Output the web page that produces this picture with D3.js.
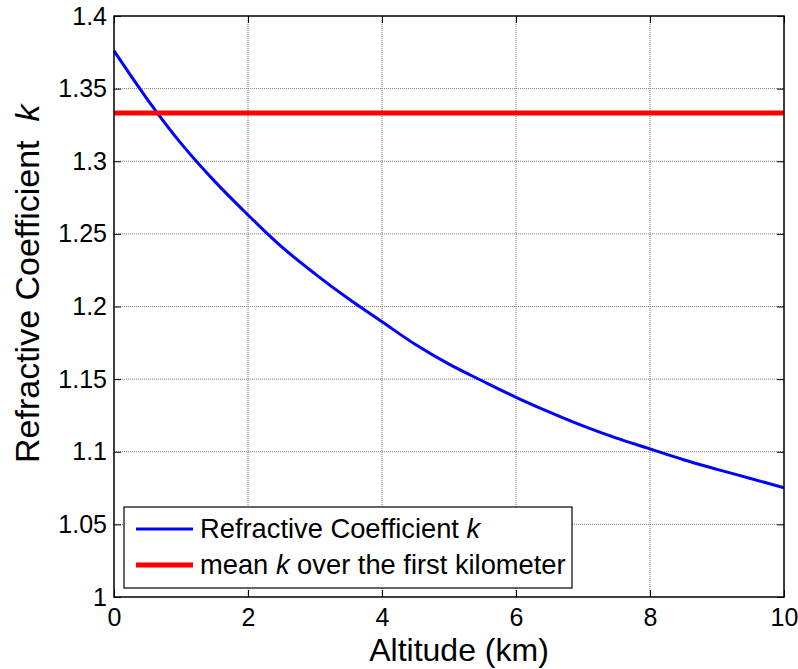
<!DOCTYPE html>
<html>
<head>
<meta charset="utf-8">
<script src="https://cdn.jsdelivr.net/npm/d3@7"></script>
<style>
  html, body { margin: 0; padding: 0; background: #fff; }
  svg { display: block; font-family: Arial, "Liberation Sans", sans-serif; }
</style>
</head>
<body>
<svg id="chart" width="798" height="669"></svg>
<script>
// Altitude samples (km) and the refractive coefficient k at each one
const altitudeKm = [0, 0.5, 1, 1.5, 2, 2.5, 3, 3.5, 4, 4.5, 5, 5.5, 6, 6.5, 7, 7.5, 8, 8.5, 9, 9.5, 10];
const kValues = [1.376, 1.3425, 1.3123, 1.2863, 1.263, 1.2412, 1.2225, 1.2053, 1.1895, 1.1738, 1.1603,
                 1.1487, 1.1375, 1.1273, 1.1178, 1.1094, 1.102, 1.0945, 1.0879, 1.0816, 1.0752];
// Mean k over the first kilometre
const meanK = 1.3333;

const xTicks = [0, 2, 4, 6, 8, 10];
const yTicks = [1, 1.05, 1.1, 1.15, 1.2, 1.25, 1.3, 1.35, 1.4];
const xTickLabels = ["0", "2", "4", "6", "8", "10"];
const yTickLabels = ["1", "1.05", "1.1", "1.15", "1.2", "1.25", "1.3", "1.35", "1.4"];

const svg = d3.select("#chart");
const plotL = 114, plotR = 784, plotT = 16, plotB = 597;

const x = d3.scaleLinear().domain([0, 10]).range([plotL, plotR]);
const y = d3.scaleLinear().domain([1, 1.4]).range([plotB, plotT]);

// grid
const grid = svg.append("g");
grid.selectAll(".gx").data(xTicks.slice(1, -1)).enter().append("line")
  .attr("x1", d => x(d)).attr("x2", d => x(d)).attr("y1", plotT).attr("y2", plotB)
  .attr("stroke", "#7a7a7a").attr("stroke-width", 1).attr("stroke-dasharray", "1,1");
grid.selectAll(".gy").data(yTicks.slice(1, -1)).enter().append("line")
  .attr("x1", plotL).attr("x2", plotR).attr("y1", d => y(d)).attr("y2", d => y(d))
  .attr("stroke", "#7a7a7a").attr("stroke-width", 1).attr("stroke-dasharray", "1,1");

// axes with inward ticks on all four sides
const tickLen = 7;
const axB = svg.append("g").attr("transform", `translate(0,${plotB})`)
  .call(d3.axisBottom(x).tickValues(xTicks).tickFormat((d, i) => xTickLabels[i]).tickSizeInner(-tickLen).tickSizeOuter(0).tickPadding(11));
const axL = svg.append("g").attr("transform", `translate(${plotL},0)`)
  .call(d3.axisLeft(y).tickValues(yTicks).tickFormat((d, i) => yTickLabels[i]).tickSizeInner(-tickLen).tickSizeOuter(0).tickPadding(7));
const axT = svg.append("g").attr("transform", `translate(0,${plotT})`)
  .call(d3.axisTop(x).tickValues(xTicks).tickFormat("").tickSizeInner(-tickLen).tickSizeOuter(0));
const axR = svg.append("g").attr("transform", `translate(${plotR},0)`)
  .call(d3.axisRight(y).tickValues(yTicks).tickFormat("").tickSizeInner(-tickLen).tickSizeOuter(0));
[axB, axL, axT, axR].forEach(a => {
  a.select(".domain").remove();
  a.selectAll(".tick line").attr("stroke", "#000");
  a.selectAll(".tick text").attr("fill", "#000").style("font-size", "25px")
    .style("font-family", "Arial, 'Liberation Sans', sans-serif");
});

// data lines
svg.append("path").datum(altitudeKm.map((a, i) => [a, kValues[i]]))
  .attr("fill", "none").attr("stroke", "#0000ff").attr("stroke-width", 3)
  .attr("d", d3.line().x(d => x(d[0])).y(d => y(d[1])).curve(d3.curveMonotoneX));
svg.append("line")
  .attr("x1", x(0)).attr("x2", x(10)).attr("y1", y(meanK)).attr("y2", y(meanK))
  .attr("stroke", "#ff0000").attr("stroke-width", 5);

// box
svg.append("rect").attr("x", plotL).attr("y", plotT).attr("width", plotR - plotL).attr("height", plotB - plotT)
  .attr("fill", "none").attr("stroke", "#000").attr("stroke-width", 1.5);

// legend
const lg = svg.append("g");
lg.append("rect").attr("x", 124).attr("y", 507).attr("width", 448).attr("height", 81)
  .attr("fill", "#fff").attr("stroke", "#000").attr("stroke-width", 1.2);
const entries = [
  { color: "#0000ff", width: 3, parts: ["Refractive Coefficient ", "k", ""] },
  { color: "#ff0000", width: 5, parts: ["mean ", "k", " over the first kilometer"] }
];
entries.forEach((e, i) => {
  const cy = 529 + i * 36;
  lg.append("line").attr("x1", 136).attr("x2", 193).attr("y1", cy).attr("y2", cy)
    .attr("stroke", e.color).attr("stroke-width", e.width);
  const t = lg.append("text").attr("x", 200).attr("y", cy + 9).style("font-size", "27.3px").attr("fill", "#000");
  t.append("tspan").text(e.parts[0]);
  t.append("tspan").style("font-style", "italic").text(e.parts[1]);
  t.append("tspan").text(e.parts[2]);
});

// axis titles
svg.append("text").attr("x", (plotL + plotR) / 2 + 10).attr("y", 661).attr("text-anchor", "middle")
  .style("font-size", "32px").attr("fill", "#000").text("Altitude (km)");
const yl = svg.append("text").attr("transform", `translate(39,463) rotate(-90)`)
  .attr("text-anchor", "start").style("font-size", "34px").attr("fill", "#000");
yl.append("tspan").text("Refractive Coefficient\u00a0\u00a0");
yl.append("tspan").style("font-style", "italic").text("k");
</script>
</body>
</html>
